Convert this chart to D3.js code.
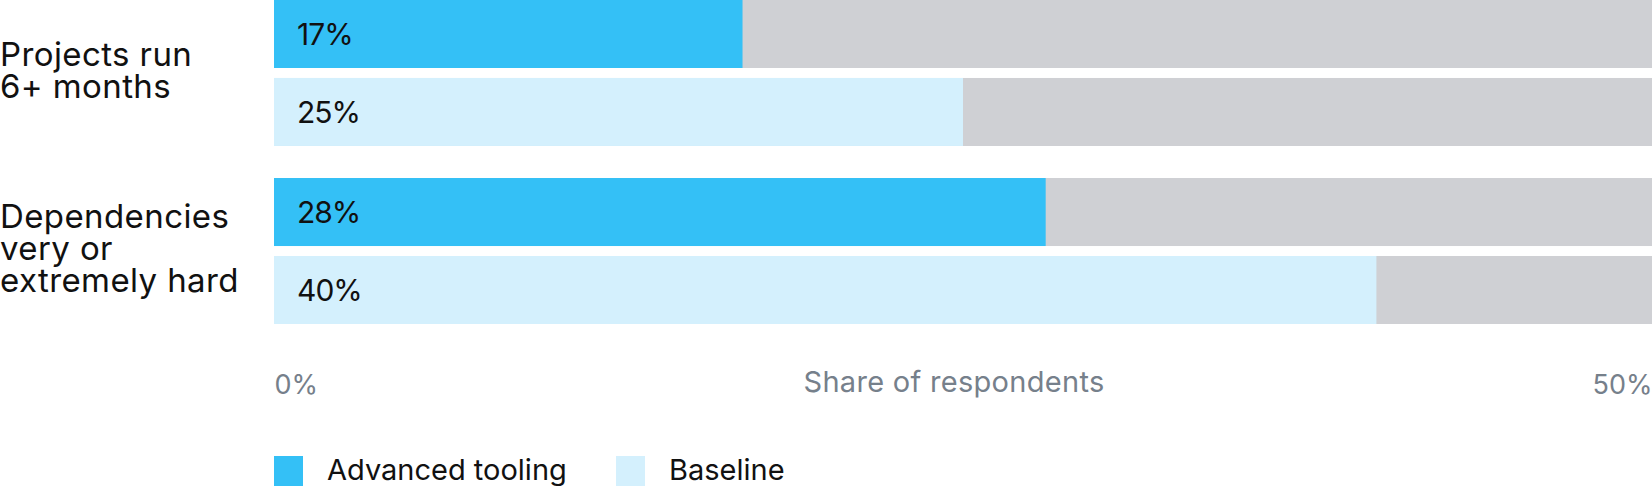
<!DOCTYPE html>
<html>
<head>
<meta charset="utf-8">
<script src="https://cdn.jsdelivr.net/npm/d3@7"></script>
<style>
  body { margin: 0; background: #fff; }
  svg { display: block; font-family: Inter, "Noto Sans", sans-serif; }
</style>
</head>
<body>
<svg width="1652" height="486"></svg>
<script>
// chart values
const categories = ['projects', 'dependencies']
const categoryLines = [
	['Projects run', '6+ months'],
	['Dependencies', 'very or', 'extremely hard']
]
const series = ['Advanced tooling', 'Baseline']
const advancedValues = [17, 28]
const baselineValues = [25, 40]
const xTicks = [0, 50]
const axisTitle = 'Share of respondents'

const colors = { 'Advanced tooling': '#34c0f6', 'Baseline': '#d4f0fd' }

let svg = d3.select('svg')

let xScale = d3.scaleLinear()
	.domain([0, 50])
	.range([274, 1652])

let groupScale = d3.scaleBand()
	.domain(categories)
	.range([0, 324])
	.paddingInner(0.18)

let barScale = d3.scaleBand()
	.domain(series)
	.range([0, groupScale.bandwidth()])
	.paddingInner(0.128)

let rows = []
categories.forEach((c, i) => {
	rows.push({ cat: c, s: 'Advanced tooling', v: advancedValues[i] })
	rows.push({ cat: c, s: 'Baseline', v: baselineValues[i] })
})

let groups = svg.append('g').attr('id', 'bars')
	.selectAll('g')
	.data(rows)
	.enter()
	.append('g')
	.attr('transform', d => `translate(0, ${groupScale(d.cat) + barScale(d.s)})`)

// grey track to 50%
groups.append('rect')
	.attr('x', xScale(0))
	.attr('width', xScale(50) - xScale(0))
	.attr('height', barScale.bandwidth())
	.attr('fill', '#cfd0d4')

groups.append('rect')
	.attr('x', xScale(0))
	.attr('width', d => xScale(d.v) - xScale(0))
	.attr('height', barScale.bandwidth())
	.attr('fill', d => colors[d.s])

groups.append('text')
	.attr('x', xScale(0) + 23)
	.attr('y', barScale.bandwidth() / 2 + 11)
	.attr('font-size', 30)
	.attr('letter-spacing', -1)
	.attr('fill', '#111')
	.text(d => d.v + '%')

// category labels
let labels = svg.append('g').attr('id', 'labels')
	.selectAll('text')
	.data(categories)
	.enter()
	.append('text')
	.attr('x', 0)
	.attr('y', (d, i) => groupScale(d) + groupScale.bandwidth() / 2 - (categoryLines[i].length - 1) * 16 + 9)
	.attr('font-size', 33)
	.attr('letter-spacing', 0.4)
	.attr('fill', '#111')

labels.selectAll('tspan')
	.data((d, i) => categoryLines[i])
	.enter()
	.append('tspan')
	.attr('x', 0)
	.attr('dy', (d, i) => i === 0 ? 0 : 32)
	.text(d => d)

// x axis
let axisG = svg.append('g')
	.attr('id', 'bottom-axis')
	.attr('transform', 'translate(0, 366)')
let bottomAxis = d3.axisBottom(xScale)
	.tickValues(xTicks)
	.tickSize(0)
	.tickFormat(d => d + '%')
axisG.call(bottomAxis)
axisG.select('.domain').remove()
axisG.selectAll('text')
	.attr('font-size', 27)
	.attr('font-family', 'Inter, sans-serif')
	.attr('fill', '#76808b')
	.attr('dy', 0)
	.attr('y', 28)
	.attr('text-anchor', (d, i) => i === 0 ? 'start' : 'end')

svg.append('text')
	.attr('x', 954)
	.attr('y', 392)
	.attr('text-anchor', 'middle')
	.attr('font-size', 29)
	.attr('letter-spacing', 0.3)
	.attr('fill', '#76808b')
	.text(axisTitle)

// legend
let legendX = [274, 616]
let legend = svg.append('g').attr('id', 'legend')
	.selectAll('g')
	.data(series)
	.enter()
	.append('g')
	.attr('transform', (d, i) => `translate(${legendX[i]}, 456)`)
legend.append('rect')
	.attr('width', 29)
	.attr('height', 30)
	.attr('fill', d => colors[d])
legend.append('text')
	.attr('x', 53)
	.attr('y', 24)
	.attr('font-size', 29)
	.attr('fill', '#111')
	.text(d => d)
</script>
</body>
</html>
